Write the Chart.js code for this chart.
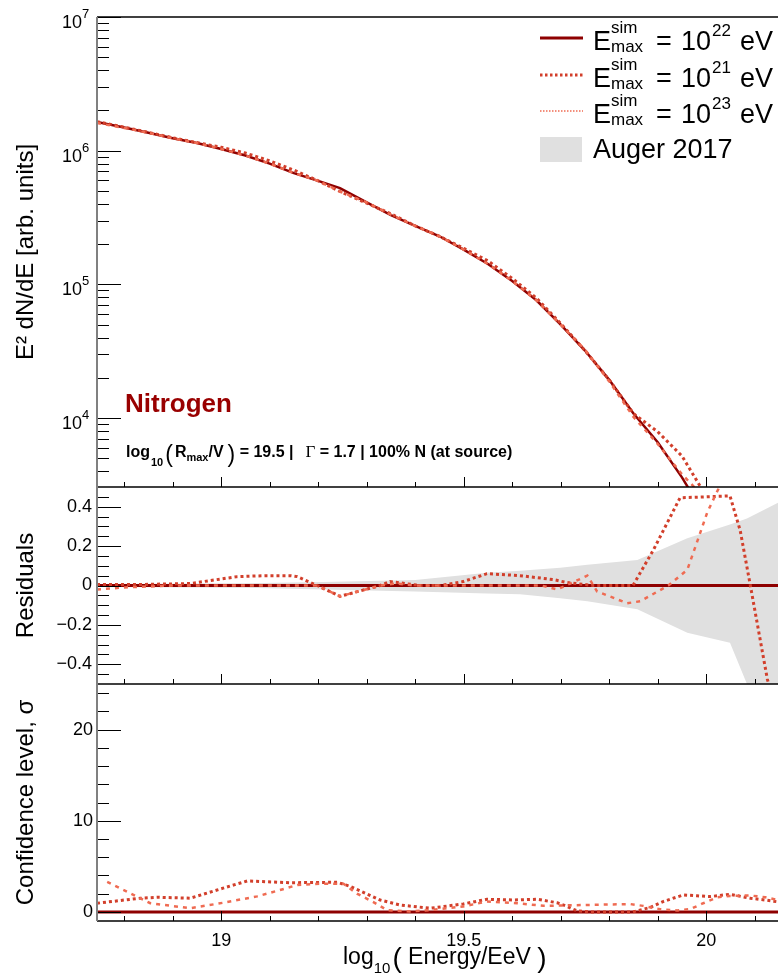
<!DOCTYPE html>
<html>
<head>
<meta charset="utf-8">
<title>Nitrogen spectrum fit</title>
<script src="https://cdn.jsdelivr.net/npm/chart.js@4.4.1/dist/chart.umd.min.js"></script>
<style>
  html, body { margin: 0; padding: 0; background: #fff; }
  #wrap { position: relative; width: 778px; height: 977px; }
</style>
</head>
<body>
<div id="wrap"><canvas id="spectrum" width="778" height="977"></canvas></div>
<script>
// energies are log10(E / eV)
const specEnergy = [18.744, 18.80, 18.85, 18.90, 18.95, 19.00, 19.05, 19.10, 19.15, 19.20, 19.245, 19.30, 19.35,
  19.40, 19.45, 19.50, 19.55, 19.60, 19.65, 19.70, 19.75, 19.80, 19.85, 19.90, 19.95, 20.00];
const specEmax22 = [1.64e6, 1.49e6, 1.36e6, 1.24e6, 1.14e6, 1.03e6, 9.2e5, 8.0e5, 6.8e5, 5.95e5, 5.25e5, 4.1e5, 3.3e5,
  2.74e5, 2.29e5, 1.82e5, 1.42e5, 1.06e5, 7.6e4, 5.0e4, 3.2e4, 1.93e4, 1.08e4, 6.6e3, 3.6e3, 1.8e3];
const specEmax21 = [1.65e6, 1.50e6, 1.37e6, 1.25e6, 1.15e6, 1.06e6, 9.6e5, 8.4e5, 7.15e5, 5.95e5, 4.95e5, 4.05e5, 3.37e5,
  2.74e5, 2.29e5, 1.86e5, 1.50e5, 1.11e5, 7.9e4, 5.1e4, 3.2e4, 1.93e4, 1.08e4, 7.9e3, 5.2e3, 2.6e3];
const specEmax23 = [1.61e6, 1.48e6, 1.36e6, 1.24e6, 1.14e6, 1.03e6, 9.2e5, 8.0e5, 6.8e5, 5.95e5, 4.95e5, 4.1e5, 3.32e5,
  2.74e5, 2.29e5, 1.82e5, 1.42e5, 1.06e5, 7.6e4, 5.0e4, 3.25e4, 1.88e4, 1.02e4, 6.4e3, 3.8e3, 2.45e3];

// residuals with respect to the Emax = 1e22 eV spectrum
const resEnergy22 = [18.744, 20.2];
const resEmax22 = [0, 0];
const resEnergy21 = [18.744, 18.833, 18.936, 19.033, 19.091, 19.142, 19.157, 19.198, 19.245, 19.328, 19.348, 19.41,
  19.452, 19.499, 19.548, 19.616, 19.685, 19.713, 19.767, 19.849, 19.891, 19.946, 20.049, 20.07, 20.091, 20.126, 20.163];
const resEmax21 = [0.005, 0.005, 0.01, 0.045, 0.05, 0.05, 0.045, 0.0, -0.055, 0.0, 0.02, 0.0,
  0.0, 0.02, 0.06, 0.05, 0.03, 0.015, 0.0, 0.0, 0.18, 0.445, 0.455, 0.28, 0.0, -0.475, -0.8];
const resEnergy23 = [18.744, 18.80, 18.90, 19.198, 19.245, 19.328, 19.36, 19.40, 19.49, 19.66, 19.693, 19.755,
  19.775, 19.837, 19.864, 19.922, 19.961, 19.981, 20.002, 20.025, 20.045];
const resEmax23 = [-0.02, -0.01, 0.0, 0.0, -0.055, 0.0, 0.01, 0.0, 0.0, 0.0, -0.02, 0.05,
  -0.03, -0.09, -0.08, 0.0, 0.08, 0.22, 0.37, 0.49, 0.65];

// Auger 2017 relative uncertainty band
const augerEnergy = [18.744, 19.05, 19.21, 19.40, 19.548, 19.616, 19.699, 19.755, 19.858, 19.961, 20.049, 20.084, 20.148];
const augerUpper = [0.008, 0.012, 0.018, 0.028, 0.065, 0.075, 0.09, 0.105, 0.13, 0.24, 0.31, 0.34, 0.42];
const augerLower = [-0.008, -0.012, -0.02, -0.03, -0.04, -0.045, -0.065, -0.08, -0.12, -0.24, -0.29, -0.5, -0.5];

// confidence level in sigma
const confEnergy22 = [18.744, 20.2];
const confEmax22 = [0, 0];
const confEnergy21 = [18.744, 18.833, 18.868, 18.936, 19.004, 19.054, 19.142, 19.239, 19.266, 19.328, 19.369, 19.431,
  19.499, 19.548, 19.602, 19.652, 19.693, 19.713, 19.734, 19.761, 19.849, 19.885, 19.911, 19.953, 19.981, 20.008,
  20.049, 20.091, 20.122, 20.148];
const confEmax21 = [0.95, 1.5, 1.6, 1.5, 2.6, 3.4, 3.2, 3.25, 2.8, 1.3, 0.75, 0.4,
  0.87, 1.38, 1.31, 1.38, 1.0, 0.6, 0.1, 0, 0, 0.5, 1.13, 1.86, 1.77, 1.68,
  1.93, 1.5, 1.3, 1.1];
const confEnergy23 = [18.765, 18.854, 18.936, 19.004, 19.074, 19.115, 19.157, 19.21, 19.252, 19.28, 19.313, 19.342,
  19.39, 19.431, 19.499, 19.548, 19.61, 19.664, 19.699, 19.761, 19.843, 19.87, 19.905, 19.94, 19.967, 19.994,
  20.023, 20.049, 20.091, 20.122, 20.148];
const confEmax23 = [3.3, 0.95, 0.4, 1.0, 1.7, 2.3, 2.95, 3.1, 3.1, 2.0, 1.1, 0.2,
  0.05, 0.2, 0.6, 1.13, 0.95, 0.66, 0.7, 0.77, 0.86, 0.66, 0.3, 0.15, 0.3, 0.95,
  1.6, 1.75, 1.8, 1.6, 1.3];

const xLabelTicks = [19, 19.5, 20];
const fluxLabelTicks = [1e4, 1e5, 1e6, 1e7];
const resLabelTicks = [-0.4, -0.2, 0, 0.2, 0.4];
const confLabelTicks = [0, 10, 20];

const c22 = '#8e0000';
const c21 = '#d23f2b';
const c23 = '#ef6b52';
const bandColor = '#e0e0e0';
const FONT = "'Liberation Sans', Helvetica, Arial, sans-serif";

Chart.defaults.font.family = FONT;
Chart.defaults.color = '#000';

const pts = (xs, ys) => xs.map((x, i) => ({ x: x, y: ys[i] }));

function seg(ctx, x1, y1, x2, y2) {
  ctx.beginPath();
  ctx.moveTo(x1, y1);
  ctx.lineTo(x2, y2);
  ctx.stroke();
}

// keep every dataset inside its own pad
const panelClip = {
  id: 'panelClip',
  beforeDatasetDraw(chart, args) {
    const ys = args.meta.yScale, a = chart.chartArea;
    chart.ctx.save();
    chart.ctx.beginPath();
    chart.ctx.rect(a.left, ys.top, a.right - a.left, ys.bottom - ys.top);
    chart.ctx.clip();
  },
  afterDatasetDraw(chart) {
    chart.ctx.restore();
  }
};

// ROOT style frame: ticks pointing into the pads
const rootAxes = {
  id: 'rootAxes',
  afterDatasetsDraw(chart) {
    const ctx = chart.ctx, xs = chart.scales.x;
    const { left, right } = chart.chartArea;
    const top = chart.scales.yTop, res = chart.scales.yRes, conf = chart.scales.yConf;
    ctx.save();
    ctx.strokeStyle = '#000';
    ctx.lineWidth = 1.5;
    seg(ctx, left, top.top, right, top.top);
    [top, res, conf].forEach(s => {
      ctx.lineWidth = 1.5;
      seg(ctx, left, s.bottom, right, s.bottom);
      ctx.lineWidth = 1;
      for (let i = 0; ; i++) {
        const v = 18.8 + i * 0.1;
        if (v > xs.max) break;
        const px = Math.round(xs.getPixelForValue(v)) + 0.5;
        const major = Math.abs(v * 2 - Math.round(v * 2)) < 1e-6;
        seg(ctx, px, s.bottom, px, s.bottom - (major ? 10 : 5));
      }
    });

    const yTick = (s, v, major) => {
      const py = Math.round(s.getPixelForValue(v)) + 0.5;
      seg(ctx, left, py, left + (major ? 24 : 12), py);
    };
    ctx.lineWidth = 1;
    for (let d = 3; d <= 6; d++) {
      for (let m = 1; m <= 9; m++) {
        const v = m * Math.pow(10, d);
        if (v > top.min && v < top.max) yTick(top, v, m === 1);
      }
    }
    yTick(top, 1e7, true);
    for (let k = -9; k <= 9; k++) yTick(res, k * 0.05, k % 4 === 0);
    for (let v = 0; v <= 24; v += 2) yTick(conf, v, v % 10 === 0);

    ctx.strokeStyle = '#808080';
    ctx.lineWidth = 2;
    seg(ctx, left, top.top, left, conf.bottom);

    // decade labels of the flux axis, 10 with a raised exponent
    ctx.fillStyle = '#000';
    ctx.textAlign = 'left';
    ctx.textBaseline = 'alphabetic';
    fluxLabelTicks.forEach(v => {
      const py = top.getPixelForValue(v);
      ctx.font = '18px ' + FONT;
      ctx.fillText('10', 62, py + 11);
      const w = ctx.measureText('10').width;
      ctx.font = '13px ' + FONT;
      ctx.fillText(String(Math.round(Math.log10(v))), 62 + w, py + 1);
    });
    ctx.restore();
  }
};

function drawPieces(ctx, x, base, pieces) {
  pieces.forEach(p => {
    ctx.font = p.font;
    x += p.gap || 0;
    ctx.fillText(p.t, x, base + (p.dy || 0));
    x += ctx.measureText(p.t).width;
  });
}

// legend, pad labels and the energy axis title
const annotations = {
  id: 'annotations',
  afterDraw(chart) {
    const ctx = chart.ctx;
    ctx.save();
    ctx.fillStyle = '#000';
    ctx.textBaseline = 'alphabetic';
    ctx.textAlign = 'left';

    const lx = 540, lw = 43, tx = 593;
    const big = '27px ' + FONT;
    const rows = [
      { y: 38, exp: '22', color: c22, width: 3, dash: [] },
      { y: 75, exp: '21', color: c21, width: 3, dash: [2.5, 2.5] },
      { y: 111, exp: '23', color: c23, width: 1.5, dash: [1.5, 1.5] }
    ];
    rows.forEach(r => {
      ctx.save();
      ctx.strokeStyle = r.color;
      ctx.lineWidth = r.width;
      ctx.setLineDash(r.dash);
      seg(ctx, lx, r.y, lx + lw, r.y);
      ctx.restore();
      const base = r.y + 12;
      ctx.font = big;
      ctx.fillText('E', tx, base);
      const ew = ctx.measureText('E').width;
      ctx.font = '17px ' + FONT;
      ctx.fillText('sim', tx + ew, base - 17);
      ctx.fillText('max', tx + ew, base + 2);
      ctx.font = big;
      ctx.fillText('=', 656, base);
      ctx.fillText('10', 681, base);
      const tw = ctx.measureText('10').width;
      ctx.font = '17px ' + FONT;
      ctx.fillText(r.exp, 681 + tw + 1, base - 14);
      ctx.font = big;
      ctx.textAlign = 'right';
      ctx.fillText('eV', 773, base);
      ctx.textAlign = 'left';
    });
    ctx.fillStyle = bandColor;
    ctx.fillRect(lx, 137, lw - 1, 25);
    ctx.fillStyle = '#000';
    ctx.font = big;
    ctx.fillText('Auger 2017', tx, 158);

    ctx.fillStyle = '#990000';
    ctx.font = 'bold 26px ' + FONT;
    ctx.fillText('Nitrogen', 125, 412);

    ctx.fillStyle = '#000';
    const b = 'bold 16px ' + FONT;
    drawPieces(ctx, 126, 457, [
      { t: 'log', font: b },
      { t: '10', font: 'bold 11px ' + FONT, dy: 9, gap: 1 },
      { t: '(', font: '23px ' + FONT, dy: 5, gap: 2 },
      { t: 'R', font: b, gap: 2 },
      { t: 'max', font: 'bold 11px ' + FONT, dy: 4 },
      { t: '/V', font: b },
      { t: ')', font: '23px ' + FONT, dy: 5, gap: 4 },
      { t: ' = 19.5 |  ', font: b },
      { t: 'Γ', font: '17px "Liberation Serif", serif', gap: 3 },
      { t: ' = 1.7 | 100% N (at source)', font: b }
    ]);

    drawPieces(ctx, 343, 964, [
      { t: 'log', font: '23px ' + FONT },
      { t: '10', font: '15px ' + FONT, dy: 9 },
      { t: '(', font: '28px ' + FONT, dy: 3, gap: 2 },
      { t: ' Energy/EeV ', font: '23px ' + FONT },
      { t: ')', font: '28px ' + FONT, dy: 3 }
    ]);
    ctx.restore();
  }
};

const tickFont = { size: 18 };
const titleFont = { size: 24 };
const fixWidth = s => { s.width = 97; };

new Chart(document.getElementById('spectrum'), {
  type: 'line',
  data: {
    datasets: [
      { data: pts(augerEnergy, augerUpper), yAxisID: 'yRes', fill: '+1', backgroundColor: bandColor,
        borderColor: 'rgba(0,0,0,0)', borderWidth: 0, order: 10 },
      { data: pts(augerEnergy, augerLower), yAxisID: 'yRes', fill: false,
        borderColor: 'rgba(0,0,0,0)', borderWidth: 0, order: 9 },

      { data: pts(specEnergy, specEmax22), yAxisID: 'yTop', borderColor: c22, borderWidth: 2.5, order: 3 },
      { data: pts(specEnergy, specEmax21), yAxisID: 'yTop', borderColor: c21, borderWidth: 3, borderDash: [3, 3], order: 2 },
      { data: pts(specEnergy, specEmax23), yAxisID: 'yTop', borderColor: c23, borderWidth: 2.5, borderDash: [4, 5], order: 1 },

      { data: pts(resEnergy22, resEmax22), yAxisID: 'yRes', borderColor: c22, borderWidth: 3, order: 3 },
      { data: pts(resEnergy21, resEmax21), yAxisID: 'yRes', borderColor: c21, borderWidth: 3, borderDash: [3, 3], order: 2 },
      { data: pts(resEnergy23, resEmax23), yAxisID: 'yRes', borderColor: c23, borderWidth: 2.5, borderDash: [4, 5], order: 1 },

      { data: pts(confEnergy22, confEmax22), yAxisID: 'yConf', borderColor: c22, borderWidth: 3, order: 3 },
      { data: pts(confEnergy21, confEmax21), yAxisID: 'yConf', borderColor: c21, borderWidth: 3, borderDash: [3, 3], order: 2 },
      { data: pts(confEnergy23, confEmax23), yAxisID: 'yConf', borderColor: c23, borderWidth: 2.5, borderDash: [4, 5], order: 1 }
    ]
  },
  options: {
    responsive: false,
    animation: false,
    devicePixelRatio: 1,
    layout: { padding: { top: 17, right: 0, bottom: 0, left: 0 } },
    elements: { point: { radius: 0 }, line: { tension: 0 } },
    plugins: { legend: { display: false }, tooltip: { enabled: false } },
    scales: {
      x: {
        type: 'linear', min: 18.744, max: 20.148,
        grid: { display: false, drawTicks: false }, border: { display: false },
        ticks: { font: tickFont, padding: 9, maxRotation: 0, autoSkip: false, callback: v => String(v) },
        afterBuildTicks: s => { s.ticks = xLabelTicks.map(v => ({ value: v })); },
        afterFit: s => { s.height = 56; }
      },
      yTop: {
        type: 'logarithmic', position: 'left', stack: 'pads', stackWeight: 470, weight: 3,
        min: 3050, max: 1e7,
        grid: { display: false, drawTicks: false }, border: { display: false },
        ticks: { display: false },
        afterBuildTicks: s => { s.ticks = fluxLabelTicks.map(v => ({ value: v })); },
        afterFit: fixWidth,
        title: { display: true, text: 'E² dN/dE [arb. units]', font: titleFont, padding: { top: 12, bottom: 0 } }
      },
      yRes: {
        type: 'linear', position: 'left', stack: 'pads', stackWeight: 197, weight: 2,
        min: -0.5, max: 0.5,
        grid: { display: false, drawTicks: false }, border: { display: false },
        ticks: { font: tickFont, padding: 5,
          callback: v => v === 0 ? '0' : (v < 0 ? '−' : '') + Math.abs(v).toFixed(1) },
        afterBuildTicks: s => { s.ticks = resLabelTicks.map(v => ({ value: v })); },
        afterFit: fixWidth,
        title: { display: true, text: 'Residuals', font: titleFont, padding: { top: 12, bottom: 0 } }
      },
      yConf: {
        type: 'linear', position: 'left', stack: 'pads', stackWeight: 237, weight: 1,
        min: -1, max: 25,
        grid: { display: false, drawTicks: false }, border: { display: false },
        ticks: { font: tickFont, padding: 4, callback: v => String(v) },
        afterBuildTicks: s => { s.ticks = confLabelTicks.map(v => ({ value: v })); },
        afterFit: fixWidth,
        title: { display: true, text: 'Confidence level, σ', font: titleFont, padding: { top: 12, bottom: 0 } }
      }
    }
  },
  plugins: [panelClip, rootAxes, annotations]
});
</script>
</body>
</html>
